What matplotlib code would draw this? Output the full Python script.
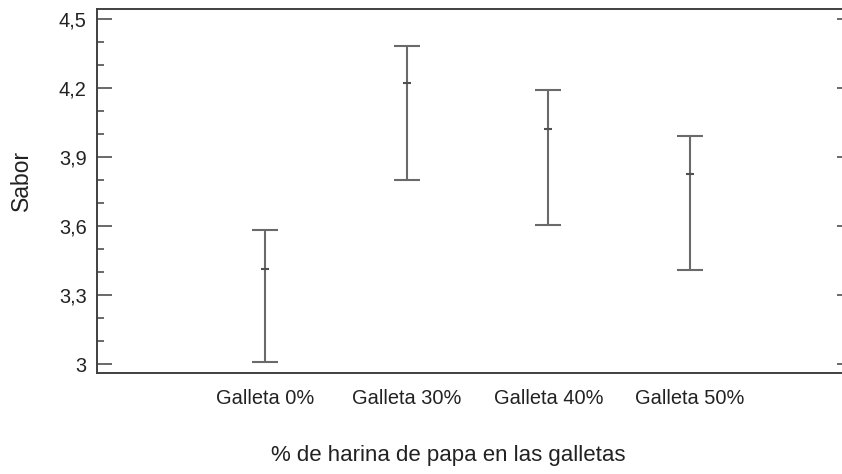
import numpy as np
import matplotlib.pyplot as plt
import matplotlib.ticker as ticker

plt.rcParams['font.family'] = ['Liberation Sans', 'DejaVu Sans']

categories = ["Galleta 0%", "Galleta 30%", "Galleta 40%", "Galleta 50%"]
means = np.array([3.416, 4.222, 4.022, 3.828])
lower = np.array([3.010, 3.803, 3.605, 3.408])
upper = np.array([3.584, 4.386, 4.193, 3.994])

y_label = "Sabor"
x_label = "% de harina de papa en las galletas"

BAR_COLOR = "#6a6a6a"
AXIS_COLOR = "#404040"


def comma_fmt(v, pos):
    return ("%g" % round(v, 2)).replace(".", ",")


fig = plt.figure(figsize=(8.42, 4.74), dpi=100)
ax = fig.add_axes([0.1156, 0.2124, 0.8870, 0.7686])

x = np.arange(1, len(categories) + 1)
# capsize is half the cap width in matplotlib
ax.errorbar(x, means, yerr=[means - lower, upper - means], fmt="none",
            ecolor=BAR_COLOR, elinewidth=1.5, capsize=9.3, capthick=1.5)
ax.plot(x, means, linestyle="none", marker="_", markersize=6,
        markeredgewidth=1.5, color="#505050")

ax.set_xlim(-0.18, 5.086)
ax.set_ylim(2.960, 4.545)
ax.set_xticks(x)
ax.set_xticklabels(categories, fontsize=14.4, color="#222222")
ax.yaxis.set_major_locator(ticker.MultipleLocator(0.3))
ax.yaxis.set_minor_locator(ticker.MultipleLocator(0.1))
ax.yaxis.set_major_formatter(ticker.FuncFormatter(comma_fmt))

ax.tick_params(axis="x", length=0, pad=11)
ax.tick_params(axis="y", which="major", direction="in", length=11,
               width=1.1, color=AXIS_COLOR, labelsize=14.4,
               labelcolor="#222222", pad=7.6)
ax.tick_params(axis="y", which="minor", direction="in", length=5,
               width=1.1, color=AXIS_COLOR)

for side in ["left", "bottom", "top"]:
    ax.spines[side].set_color(AXIS_COLOR)
    ax.spines[side].set_linewidth(1.4)
ax.spines["right"].set_visible(False)

# short inward ticks on the right side, majors only
ax2 = ax.twinx()
ax2.set_ylim(ax.get_ylim())
ax2.yaxis.set_major_locator(ticker.MultipleLocator(0.3))
ax2.tick_params(axis="y", direction="in", length=5, width=1.1,
                color=AXIS_COLOR, labelright=False)
for side in ["left", "bottom", "top", "right"]:
    ax2.spines[side].set_visible(False)

fig.text(0.026, 0.62, y_label, rotation=90, ha="center", va="center",
         fontsize=16.5, color="#222222")
fig.text(0.532, 0.040, x_label, ha="center", va="center",
         fontsize=16, color="#222222")

fig.savefig("out.png", dpi=100)
